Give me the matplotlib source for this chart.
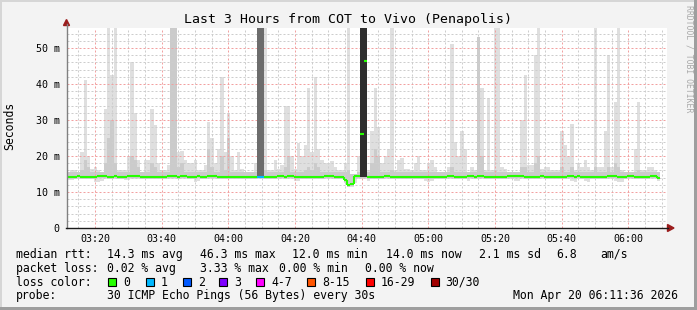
import numpy as np
import matplotlib
matplotlib.use("Agg")
import matplotlib.pyplot as plt
from matplotlib.patches import Rectangle, Polygon
from matplotlib.collections import LineCollection

# ---------------- data (1-minute bins from 03:11:36) ----------------
median = [
    14.1, 14.1, 14.1, 14.4, 14.1, 14.1, 14.1, 14.1, 14.1, 14.4, 14.4, 14.4, 14.1, 14.1, 14.4, 14.1, 14.1, 14.1, 14.4, 14.4,
    14.4, 14.4, 14.1, 14.1, 14.1, 14.1, 14.1, 14.1, 14.1, 14.1, 14.4, 14.4, 14.4, 14.1, 14.4, 14.4, 14.1, 14.1, 14.1, 14.4,
    14.1, 14.1, 14.4, 14.4, 14.4, 14.1, 14.1, 14.1, 14.1, 14.1, 14.1, 14.1, 14.1, 14.1, 14.1, 14.1, 14.1, 14.3, 14.3, 14.1,
    14.1, 14.1, 14.1, 14.4, 14.4, 14.1, 14.4, 14.4, 14.1, 14.1, 14.1, 14.1, 14.1, 14.1, 14.1, 14.1, 14.1, 14.4, 14.4, 14.4,
    14.1, 14.1, 14.1, 13.2, 12.0, 12.3, 14.4, 14.4, 26.0, 46.3, 14.1, 14.1, 14.1, 14.1, 14.1, 14.4, 14.4, 14.1, 14.1, 14.1,
    14.1, 14.1, 14.1, 14.1, 14.1, 14.1, 14.1, 14.1, 14.1, 14.1, 14.1, 14.1, 14.1, 14.1, 14.4, 14.4, 14.1, 14.1, 14.1, 14.1,
    14.4, 14.4, 14.1, 14.4, 14.4, 14.1, 14.1, 14.1, 14.1, 14.1, 14.1, 14.1, 14.4, 14.4, 14.4, 14.4, 14.4, 14.1, 14.1, 14.1,
    14.1, 14.1, 14.4, 14.1, 14.1, 14.1, 14.1, 14.1, 14.1, 14.1, 14.4, 14.4, 14.1, 14.4, 14.1, 14.1, 14.1, 14.1, 14.1, 14.1,
    14.1, 14.1, 14.4, 14.4, 14.4, 14.1, 14.1, 14.1, 14.4, 14.4, 14.1, 14.1, 14.1, 14.1, 14.1, 14.4, 14.4, 14.0,
]
smoke_hi = [
    15, 16, 16, 15.5, 21, 41, 20, 16.5, 17, 16, 15.5, 33, 55.6, 42.5, 55.6, 16, 16, 16, 20, 46,
    32, 19, 15.5, 19, 19, 33, 28.5, 18, 16, 16, 17.5, 55.6, 55.6, 21, 21.5, 19, 18, 18, 19, 16,
    16, 17.5, 29.5, 25, 18, 22, 42, 21, 32, 20, 16, 21, 16.5, 15.5, 15.5, 15.5, 18, 55.6, 55.6, 55.6,
    16, 16, 19, 16.5, 17.5, 34, 34, 20, 16.5, 23.5, 20, 23, 39, 21, 42, 22, 19, 18, 18, 18.5,
    17, 16, 16, 18, 55.6, 15, 15, 20, 55.6, 55.6, 16, 27, 39, 28, 18, 20, 22, 55.6, 16, 19,
    19.5, 16.5, 16.5, 16, 18, 20, 16, 16, 18, 19, 17, 15.5, 15.5, 15.5, 17, 51, 24, 20, 27, 22,
    15.5, 17, 16, 53, 39, 16, 36, 16, 55.6, 55.6, 17, 16.5, 15.5, 15.5, 15.5, 15.5, 30, 42.5, 17.5, 17.5,
    48, 55.6, 16.5, 17, 17, 16, 16, 16, 27, 23, 20, 29, 16, 18, 17, 19, 17, 16, 55.6, 17,
    17, 27, 48, 17, 35, 55.6, 16, 15.5, 15.5, 15.5, 22, 35, 16, 16, 17, 17, 16, 15,
]
smoke_lo = [
    13.2, 13.4, 13.6, 13.6, 13.6, 13.5, 13.5, 13.6, 12.9, 12.9, 13.0, 13.6, 13.6, 13.6, 13.6, 13.6, 13.6, 13.3, 13.3, 13.6,
    13.6, 13.6, 13.6, 13.6, 13.6, 13.6, 13.5, 13.6, 13.6, 13.6, 13.6, 13.6, 13.6, 13.6, 13.6, 13.6, 13.6, 13.6, 12.9, 13.0,
    13.6, 13.6, 13.6, 13.6, 13.6, 13.6, 13.6, 13.6, 13.6, 13.6, 13.6, 13.6, 13.6, 13.6, 13.6, 13.6, 13.6, 13.6, 13.6, 13.6,
    13.6, 13.6, 13.6, 13.6, 13.6, 13.6, 13.6, 13.6, 13.0, 13.0, 13.6, 13.6, 13.6, 13.6, 13.6, 13.6, 13.6, 13.6, 13.6, 13.6,
    13.6, 13.6, 13.6, 12.5, 11.5, 11.5, 12.5, 13.6, 13.6, 13.6, 13.0, 13.6, 13.6, 13.6, 13.6, 13.6, 13.6, 13.6, 13.6, 13.6,
    13.6, 13.6, 13.6, 13.6, 13.6, 13.6, 13.6, 13.0, 12.9, 13.0, 13.6, 13.6, 13.6, 13.6, 13.6, 13.6, 13.6, 13.6, 13.6, 13.6,
    13.0, 13.6, 13.6, 13.6, 13.6, 13.6, 13.6, 13.6, 13.6, 13.6, 13.6, 13.6, 13.6, 13.6, 13.0, 13.0, 13.6, 13.6, 13.6, 13.6,
    13.6, 13.6, 13.6, 13.6, 13.6, 13.6, 13.6, 13.6, 13.6, 13.6, 13.6, 13.0, 12.9, 13.6, 13.6, 13.0, 12.8, 13.6, 13.6, 13.6,
    13.6, 13.6, 13.6, 13.6, 13.0, 12.8, 12.9, 13.6, 13.6, 13.6, 13.6, 13.6, 13.6, 13.6, 13.6, 13.6, 13.6, 13.0,
]
core_hi = [
    15.5, 15.5, 15.5, 15.5, 16, 19, 17, 15.5, 15.5, 15.5, 15.5, 18, 25, 30, 18, 15.5, 15.5, 15.5, 15.5, 20,
    19, 17, 15.5, 15.5, 15.5, 18, 17, 15.5, 15.5, 15.5, 15.5, 55.6, 55.6, 17, 18, 15.5, 15.5, 15.5, 15.5, 15.5,
    15.5, 15.5, 22, 17, 15.5, 15.5, 20, 16, 25, 15.5, 15.5, 15.5, 15.5, 15.5, 15.5, 15.5, 15.5, 15.5, 15.5, 16,
    15.5, 15.5, 15.5, 15.5, 15.5, 17, 20, 15.5, 15.5, 15.5, 15.5, 16, 17, 16, 18, 17, 15.5, 15.5, 15.5, 15.5,
    15.5, 15.5, 15.5, 15.5, 16, 15, 15, 15.5, 15.5, 15.5, 15.5, 18, 22, 20, 15.5, 15.5, 15.5, 16, 15.5, 15.5,
    15.5, 15.5, 15.5, 15.5, 15.5, 15.5, 15.5, 15.5, 15.5, 15.5, 15.5, 15.5, 15.5, 15.5, 15.5, 17, 15.5, 15.5, 15.5, 15.5,
    15.5, 15.5, 15.5, 53, 20, 15.5, 15.5, 15.5, 16, 15.5, 15.5, 15.5, 15.5, 15.5, 15.5, 15.5, 17, 17, 15.5, 15.5,
    18, 20, 15.5, 15.5, 15.5, 15.5, 15.5, 15.5, 17, 15.5, 15.5, 17, 15.5, 15.5, 15.5, 15.5, 15.5, 15.5, 17, 15.5,
    15.5, 15.5, 17, 15.5, 18, 17, 15.5, 15.5, 15.5, 15.5, 15.5, 16, 15.5, 15.5, 15.5, 15.5, 15.5, 15.5,
]
# dense (loss / high-spread) columns
grey_cols = [57, 58]
black_cols = [88, 89]
loss_idx = [57, 58]
loss_val = [1, 1]

x_tick_labels = ["03:20", "03:40", "04:00", "04:20", "04:40", "05:00", "05:20", "05:40", "06:00"]
y_tick_vals = [0, 10, 20, 30, 40, 50]
y_tick_labels = ["0", "10 m", "20 m", "30 m", "40 m", "50 m"]

loss_labels = ["0", "1", "2", "3", "4-7", "8-15", "16-29", "30/30"]
loss_colors = ["#26ff00", "#00b8ff", "#0059ff", "#7e00ff", "#ff00ff", "#ff5500", "#ff0000", "#a10000"]

title = "Last 3 Hours from COT to Vivo (Penapolis)"

# ---------------- layout ----------------
W, H = 697, 310
fig = plt.figure(figsize=(W / 100, H / 100), dpi=100)
fig.patch.set_facecolor("#f3f3f3")
MONO = "DejaVu Sans Mono"


def fx(x):
    return x / W


def fy(y):
    return 1 - y / H


X0, X1, Y0, Y1 = 67, 667, 28, 228
ax = fig.add_axes([fx(X0), fy(Y1), (X1 - X0) / W, (Y1 - Y0) / H])
ax.set_facecolor("white")
YMAX = (Y1 - Y0) / 3.6
ax.set_xlim(0, 180)
ax.set_ylim(0, YMAX)
for s in ax.spines.values():
    s.set_visible(False)

med = np.array(median)
hi = np.array(smoke_hi)
lo = np.array(smoke_lo)
core = np.array(core_hi)
n = len(med)
t = np.arange(n)

# smoke
ax.bar(t, np.minimum(hi, YMAX) - lo, bottom=lo, width=1.0, align="edge",
       color="#dfdfdf", linewidth=0, zorder=1)
core_lo = np.minimum(med, 14.4) - 0.5
ax.bar(t, np.clip(np.minimum(core, YMAX) - core_lo, 0, None), bottom=core_lo, width=1.0,
       align="edge", color="#cbcbcb", linewidth=0, zorder=2)
gc = np.array(grey_cols)
ax.bar(gc, YMAX - med[gc], bottom=med[gc], width=1.0, align="edge",
       color="#6c6c6c", linewidth=0, zorder=5)
bc = np.array(black_cols)
ax.bar(bc, YMAX - 14.1, bottom=14.1, width=1.0, align="edge",
       color="#2e2e2e", linewidth=0, zorder=5)

# grid
start_min = 8.4  # 03:20 relative to 03:11:36
dash = (0, (2, 2))
k = np.arange(-1, 36)
for v in start_min + 5 * k:
    if 0 < v < 180:
        major = abs(((v - start_min) / 20) - round((v - start_min) / 20)) < 1e-6
        ax.axvline(v, color="#f2a0a0" if major else "#cdcdcd", lw=0.72, ls=dash, zorder=4)
for v in np.arange(2, YMAX, 2):
    major = int(round(v)) % 10 == 0
    ax.axhline(v, color="#f2a0a0" if major else "#cdcdcd", lw=0.72, ls=dash, zorder=4)

# median line (coloured by loss)
seg_colors = [loss_colors[0]] * n
for i, lv in zip(loss_idx, loss_val):
    seg_colors[i] = loss_colors[lv]
segs, cols = [], []
for i in range(n):
    segs.append([(i, med[i]), (i + 1, med[i])])
    cols.append(seg_colors[i])
    if i + 1 < n and abs(med[i + 1] - med[i]) < 3:
        segs.append([(i + 1, med[i]), (i + 1, med[i + 1])])
        cols.append(seg_colors[i])
ax.add_collection(LineCollection(segs, colors=cols, linewidths=1.5, zorder=6, capstyle="butt"))

# ticks
xt = start_min + 20 * np.arange(len(x_tick_labels))
ax.set_xticks(xt, x_tick_labels)
ax.set_yticks(y_tick_vals, y_tick_labels)
ax.tick_params(axis="both", length=0, labelsize=7.2, colors="#000000")
ax.tick_params(axis="x", pad=4.2)
ax.tick_params(axis="y", pad=5.3)
for lab in ax.get_xticklabels() + ax.get_yticklabels():
    lab.set_family(MONO)

# axes lines and arrows
fig.add_artist(plt.Line2D([fx(66.5), fx(66.5)], [fy(228), fy(24)], color="#808080", lw=1.0))
fig.add_artist(plt.Line2D([fx(66), fx(668)], [fy(228), fy(228)], color="#1a1a1a", lw=1.0))
fig.add_artist(Polygon([(fx(63.5), fy(25.5)), (fx(69.5), fy(25.5)), (fx(66.5), fy(19.5))],
                       closed=True, color="#9b1c1c", transform=fig.transFigure))
fig.add_artist(Polygon([(fx(667.5), fy(224.5)), (fx(667.5), fy(231.5)), (fx(674), fy(228))],
                       closed=True, color="#9b1c1c", transform=fig.transFigure))

# frame
fig.add_artist(Rectangle((0, fy(2)), 1, 2 / H, color="#d6d6d6", transform=fig.transFigure, lw=0))
fig.add_artist(Rectangle((0, 0), 2 / W, 1, color="#d6d6d6", transform=fig.transFigure, lw=0))
fig.add_artist(Rectangle((0, 0), 1, 3 / H, color="#9e9e9e", transform=fig.transFigure, lw=0))
fig.add_artist(Rectangle((fx(694), 0), 3 / W, 1, color="#9e9e9e", transform=fig.transFigure, lw=0))

# texts
fig.text(fx(347.5), fy(19), title, ha="center", va="center", fontsize=9.5, family=MONO)
fig.text(fx(10), fy(126), "Seconds", ha="center", va="center", rotation=90, fontsize=8.3, family=MONO)
fig.text(fx(689), fy(5), "RRDTOOL / TOBI OETIKER", ha="center", va="top", rotation=270,
         fontsize=5.9, family=MONO, color="#a9a9a9")

LF = 8.3


def lt(x, y, s, **kw):
    fig.text(fx(x), fy(y), s, ha="left", va="center", fontsize=LF, family=MONO, **kw)


r1, r2, r3, r4 = 254.3, 268.3, 282.3, 296.0
lt(16, r1, "median rtt:")
lt(107.3, r1, "14.3 ms avg")
lt(200, r1, "46.3 ms max")
lt(292.3, r1, "12.0 ms min")
lt(386, r1, "14.0 ms now")
lt(479, r1, "2.1 ms sd")
lt(556, r1, "6.8")
lt(600, r1, "am/s")

lt(16, r2, "packet loss:")
lt(107.3, r2, "0.02 % avg")
lt(200, r2, "3.33 % max")
lt(279.3, r2, "0.00 % min")
lt(365, r2, "0.00 % now")

lt(16, r3, "loss color:")
box_x = [108.3, 145.7, 182.7, 219.3, 256, 307.3, 365.7, 430.7]
for bx, lab, col in zip(box_x, loss_labels, loss_colors):
    fig.add_artist(Rectangle((fx(bx), fy(286)), 8 / W, 8 / H, facecolor=col, edgecolor="black",
                             lw=0.8, transform=fig.transFigure))
    lt(bx + 15, r3, lab)

lt(16, r4, "probe:")
lt(107.3, r4, "30 ICMP Echo Pings (56 Bytes) every 30s")
lt(512.7, r4, "Mon Apr 20 06:11:36 2026")

fig.savefig("out.png", dpi=100, facecolor=fig.get_facecolor())
